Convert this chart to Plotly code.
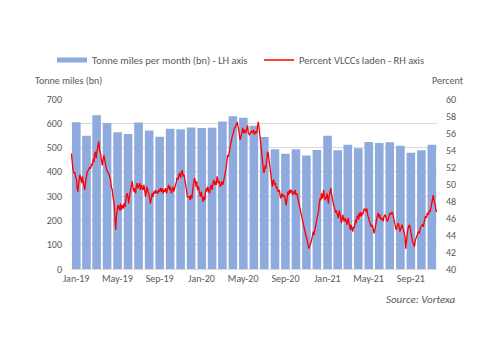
import pandas as pd
import plotly.graph_objects as go

# ---------------- data ----------------
months_start = "2019-01-01"
n_months = 35
tonne_miles = [604, 549, 633, 601, 563, 556, 603, 570, 545, 577, 575, 583,
               581, 582, 607, 629, 623, 590, 544, 493, 475, 493, 467, 490,
               549, 489, 512, 497, 523, 519, 522, 508, 479, 489, 512]

tick_months = ["2019-01", "2019-05", "2019-09", "2020-01", "2020-05",
               "2020-09", "2021-01", "2021-05", "2021-09"]
tick_labels = ["Jan-19", "May-19", "Sep-19", "Jan-20", "May-20",
               "Sep-20", "Jan-21", "May-21", "Sep-21"]

# percent VLCCs laden: (days since 2019-01-01, percent)
laden_a = [(1, 53.6), (3, 52.8), (6, 51.6), (9, 51.3), (11, 51.4), (13, 50.9), (16, 50.5), (18, 49.5), (20, 49.1), (23, 50.3),
           (26, 51.1), (28, 50.7), (31, 50.1), (33, 50.9), (36, 50.3), (39, 49.7), (40, 49.3), (42, 50.1), (45, 51.1), (47, 51.4),
           (50, 51.6), (52, 51.8), (55, 52.0), (57, 51.8), (60, 52.4), (62, 52.2), (65, 53.0), (67, 52.6), (68, 53.4), (71, 53.8),
           (73, 53.0), (76, 54.0), (79, 54.8), (81, 55.0), (83, 54.0), (86, 53.6), (88, 53.0), (91, 52.2), (93, 52.8), (96, 53.4),
           (98, 52.8), (100, 52.2), (103, 51.8), (106, 51.4), (109, 51.3), (112, 50.9), (115, 50.5), (117, 49.7), (120, 49.3), (122, 48.5),
           (125, 47.9), (127, 46.7), (128, 45.6), (130, 44.6), (132, 46.0), (134, 46.7), (136, 47.5), (139, 47.3), (141, 46.9), (144, 47.7),
           (146, 46.9), (149, 47.5), (152, 47.1), (154, 47.7), (157, 47.3), (159, 48.0), (161, 48.7), (164, 48.9)]
laden_b = [(168, 47.7), (170, 48.5), (173, 49.3), (175, 49.9), (178, 50.3), (180, 49.7), (183, 49.1), (185, 49.5), (188, 48.9), (190, 49.7),
           (192, 50.1), (195, 49.5), (197, 49.9), (200, 50.1), (202, 49.3), (205, 49.9), (207, 49.5), (210, 49.3), (212, 49.9), (215, 48.7),
           (217, 48.5), (220, 49.3), (221, 49.7), (224, 49.1), (226, 48.9), (229, 48.3), (231, 47.7), (234, 48.3), (236, 48.9), (239, 48.5),
           (241, 49.1), (244, 48.9), (246, 49.3), (249, 48.9), (250, 49.1), (253, 48.9), (255, 49.3), (258, 49.1), (260, 49.5), (263, 49.1),
           (265, 49.5), (268, 48.9), (270, 49.3), (273, 49.1), (275, 49.5), (278, 48.9), (279, 49.1), (282, 49.5), (284, 49.9), (287, 49.3),
           (289, 49.7), (292, 48.9), (294, 49.3), (297, 49.7), (299, 49.1), (302, 49.5), (304, 49.9), (307, 50.3), (308, 50.7), (311, 50.5),
           (313, 50.9), (316, 51.3), (319, 50.7), (321, 51.4), (324, 51.6), (326, 50.9), (329, 51.1), (331, 50.5), (334, 49.7), (337, 49.3),
           (339, 48.5)]
laden_c = [(344, 48.5), (347, 48.1), (349, 48.7), (352, 48.3), (354, 49.3), (357, 50.1), (359, 50.7), (362, 50.3), (364, 49.7), (366, 50.3),
           (368, 49.3), (371, 49.7), (374, 48.9), (376, 48.5), (379, 49.1), (381, 48.3), (384, 47.9), (386, 48.5), (389, 48.1), (391, 48.9),
           (394, 49.5), (395, 49.1), (398, 49.7), (400, 49.3), (403, 48.9), (405, 49.5), (408, 49.9), (410, 49.3), (413, 50.1), (415, 50.5),
           (418, 49.9), (420, 50.3), (423, 49.9), (425, 50.9), (427, 50.5), (429, 50.1), (432, 50.3), (434, 49.7), (437, 49.9), (439, 50.3),
           (442, 49.9), (444, 50.3), (447, 51.1), (449, 51.4), (452, 52.0), (454, 52.8), (456, 53.4), (458, 53.2), (461, 54.0), (463, 54.6),
           (466, 55.0), (468, 55.4), (471, 55.8), (473, 56.2), (476, 56.6), (478, 56.7), (481, 57.1), (484, 57.3), (485, 56.9), (487, 56.6),
           (490, 55.8), (492, 55.2), (495, 55.6), (497, 56.0), (500, 56.6), (502, 56.0), (505, 56.4), (507, 56.0), (510, 56.2), (512, 56.6),
           (514, 56.9), (516, 56.0), (519, 55.8), (522, 56.0)]
laden_d = [(525, 56.2), (528, 56.0), (531, 56.4), (534, 55.8), (537, 56.2), (540, 56.0), (543, 56.6), (545, 57.3), (547, 56.7), (549, 55.8),
           (551, 55.2), (553, 54.4), (555, 53.6), (557, 52.8), (559, 52.2), (561, 51.3), (563, 51.6), (565, 52.2), (567, 51.8), (569, 52.8),
           (571, 53.4), (572, 53.8), (574, 53.6), (576, 53.0), (578, 52.2), (580, 51.6), (582, 50.9), (584, 50.3), (586, 49.7), (588, 50.3),
           (590, 50.5), (592, 49.9), (595, 50.1), (597, 49.5), (599, 49.7), (601, 49.3), (603, 49.1), (606, 49.3), (608, 48.7), (610, 48.3),
           (612, 48.5), (614, 48.9), (617, 48.5), (619, 48.7), (622, 48.5), (624, 47.9), (626, 47.5), (628, 48.1), (630, 48.5), (631, 49.1),
           (633, 48.7), (636, 49.3), (638, 48.9), (640, 49.3), (643, 49.1), (645, 48.7), (647, 49.1), (650, 48.9), (652, 49.3), (654, 48.7),
           (656, 48.9), (659, 48.7), (660, 48.3), (662, 47.9), (665, 47.3), (667, 46.9), (669, 46.6), (671, 46.2), (673, 45.8), (676, 45.2),
           (678, 44.8), (681, 44.4), (683, 44.0), (686, 43.6), (688, 43.2), (690, 43.0)]
laden_e = [(692, 42.4), (695, 42.8), (699, 43.2), (702, 43.8), (705, 44.4), (707, 44.0), (710, 44.8), (712, 45.4), (715, 45.8), (717, 46.2),
           (720, 46.7), (721, 47.3), (723, 47.9), (725, 48.3), (727, 48.1), (729, 48.9), (731, 48.3), (733, 48.5), (735, 49.3), (737, 48.7),
           (739, 48.1), (741, 48.5), (743, 48.3), (745, 48.9), (747, 48.3), (749, 47.7), (750, 48.3), (752, 48.7), (754, 49.3), (756, 49.5),
           (758, 48.9), (760, 48.3), (762, 47.9), (764, 47.5), (766, 47.3), (768, 46.9), (770, 46.6), (772, 46.9), (774, 46.6), (776, 46.2),
           (778, 46.0), (779, 46.4), (781, 46.9), (783, 46.4), (785, 46.0), (787, 45.4), (789, 46.0), (791, 46.4), (793, 45.8), (795, 45.6),
           (797, 46.0), (799, 45.6), (801, 45.8), (803, 45.2), (805, 45.6), (807, 46.0), (808, 45.6), (810, 45.0), (813, 44.6), (815, 45.2),
           (818, 44.8), (820, 44.4), (822, 45.0), (824, 44.8), (826, 45.2), (828, 45.8), (830, 45.4), (832, 46.2), (834, 46.0), (836, 46.4),
           (837, 45.8), (839, 46.6), (841, 46.2), (843, 46.7), (845, 46.2), (847, 46.6), (849, 46.4), (851, 46.9), (853, 47.1), (855, 46.9),
           (857, 47.1), (859, 46.7), (861, 47.1), (863, 46.4), (865, 46.0)]
laden_f = [(870, 45.4), (873, 45.0), (876, 45.2), (879, 44.8), (882, 44.2), (885, 44.8), (888, 45.6), (891, 46.2), (894, 46.6), (897, 46.0),
           (899, 46.4), (902, 45.8), (905, 46.0), (908, 45.6), (911, 46.2), (914, 46.4), (917, 46.0), (920, 45.6), (923, 45.8), (926, 46.2),
           (928, 46.6), (931, 46.4), (934, 46.7), (937, 46.4), (940, 45.6), (943, 45.2), (946, 44.6), (949, 45.0), (952, 45.4), (955, 45.0),
           (957, 44.4), (960, 44.8), (963, 45.2), (966, 44.8), (969, 44.4), (972, 43.8), (974, 42.4), (976, 43.6), (979, 44.4), (982, 45.0),
           (985, 45.2), (987, 44.8), (990, 44.0), (993, 43.4), (996, 43.0), (999, 42.6), (1002, 43.4), (1005, 43.8), (1008, 44.0), (1011, 44.4),
           (1014, 44.2), (1016, 44.8), (1019, 45.0), (1022, 45.2), (1025, 45.0), (1028, 45.8), (1031, 46.2), (1034, 46.0), (1037, 46.6), (1040, 46.4),
           (1043, 46.9), (1045, 46.7), (1048, 47.3), (1051, 48.3), (1054, 48.7), (1057, 47.9), (1060, 47.5), (1062, 46.9), (1064, 46.7)]

# ---------------- build ----------------
base = pd.Timestamp(months_start)
month_starts = pd.date_range(months_start, periods=n_months, freq="MS")
bar_x = [m + (m + pd.offsets.MonthBegin(1) - m) / 2 for m in month_starts]

laden_all = laden_a + laden_b + laden_c + laden_d + laden_e + laden_f
line_x = [base + pd.Timedelta(days=d) for d, _ in laden_all]
line_y = [v for _, v in laden_all]

tick_vals = [pd.Timestamp(t + "-01") + pd.Timedelta(days=15) for t in tick_months]

FONT = "Carlito, Calibri, Lato, sans-serif"
GREY = "#595959"
BAR_COLOR = "#8FAADC"

fig = go.Figure()
fig.add_trace(go.Bar(
    x=bar_x, y=tonne_miles, name="Tonne miles per month (bn) - LH axis",
    marker=dict(color=BAR_COLOR, line=dict(width=0)),
    width=25 * 24 * 3600 * 1000, yaxis="y", showlegend=False,
))
# legend-only entry giving the wide rectangle swatch of the bar series
fig.add_trace(go.Scatter(
    x=[None], y=[None], name="Tonne miles per month (bn) - LH axis",
    mode="lines", line=dict(color=BAR_COLOR, width=5), yaxis="y",
    legend="legend",
))
fig.add_trace(go.Scatter(
    x=line_x, y=line_y, name="Percent VLCCs laden - RH axis", mode="lines",
    line=dict(color="#FF0000", width=1.3), yaxis="y2", legend="legend2",
))

legend_common = dict(orientation="h", xref="container", yref="container",
                     xanchor="left", y=0.83, yanchor="middle",
                     font=dict(size=10.5, color=GREY), itemwidth=30,
                     bgcolor="rgba(0,0,0,0)")

fig.update_layout(
    width=500, height=353,
    margin=dict(l=71, r=63, t=99, b=84),
    paper_bgcolor="white", plot_bgcolor="white",
    font=dict(family=FONT, size=10, color=GREY),
    showlegend=True,
    legend=dict(x=52 / 500, **legend_common),
    legend2=dict(x=259 / 500, **legend_common),
    xaxis=dict(type="date", range=[base, base + pd.Timedelta(days=1065)],
               tickvals=tick_vals, ticktext=tick_labels, showgrid=False,
               showline=True, linecolor="#D9D9D9", linewidth=1,
               ticks="", tickfont=dict(size=10, color=GREY)),
    yaxis=dict(range=[0, 700], dtick=100, showgrid=True, gridcolor="#D9D9D9",
               gridwidth=1, zeroline=False, showline=False, ticks="",
               ticklabelstandoff=8, tickfont=dict(size=10, color=GREY)),
    yaxis2=dict(range=[40, 60], dtick=2, overlaying="y", side="right",
                showgrid=False, zeroline=False, showline=False, ticks="",
                ticklabelstandoff=8, tickfont=dict(size=10, color=GREY)),
    bargap=0.2,
)

fig.add_annotation(text="Tonne miles (bn)", xref="paper", yref="paper",
                   x=-0.104, y=1.11, xanchor="left", yanchor="middle",
                   showarrow=False, font=dict(size=10, color=GREY))
fig.add_annotation(text="Percent", xref="paper", yref="paper",
                   x=1.079, y=1.11, xanchor="right", yanchor="middle",
                   showarrow=False, font=dict(size=10, color=GREY))
fig.add_annotation(text="<i>Source: Vortexa</i>", xref="paper", yref="paper",
                   x=1.057, y=-0.182, xanchor="right", yanchor="middle",
                   showarrow=False, font=dict(size=11, color=GREY))

fig.write_html("out.html")
